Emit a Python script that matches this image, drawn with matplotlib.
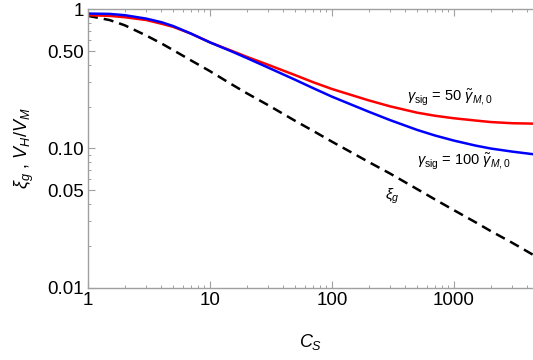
import matplotlib
matplotlib.use("Agg")
import matplotlib.pyplot as plt
from matplotlib.ticker import LogLocator, FixedLocator, FixedFormatter, NullFormatter

plt.rcParams['font.family'] = ['Liberation Sans', 'DejaVu Sans']
plt.rcParams['mathtext.fontset'] = 'custom'
plt.rcParams['mathtext.rm'] = 'Liberation Sans'
plt.rcParams['mathtext.it'] = 'Liberation Sans:italic'

# --- data ---
cs = [1, 1.5, 2, 3, 4, 5, 7, 10, 15, 20, 30, 50, 70, 100, 150, 200,
      300, 500, 700, 1000, 1500, 2000, 3000, 4450]
v_100 = [0.935, 0.93, 0.91, 0.86, 0.81, 0.76, 0.67, 0.58, 0.50, 0.448,
         0.382, 0.312, 0.272, 0.236, 0.204, 0.184, 0.160, 0.136, 0.124,
         0.114, 0.105, 0.100, 0.095, 0.091]
v_50 = [0.91, 0.90, 0.88, 0.84, 0.79, 0.75, 0.67, 0.58, 0.505, 0.457,
        0.40, 0.337, 0.300, 0.268, 0.240, 0.222, 0.201, 0.181, 0.172,
        0.165, 0.159, 0.155, 0.152, 0.151]
xi_g = [0.90, 0.84, 0.77, 0.65, 0.57, 0.51, 0.43, 0.36, 0.29, 0.25,
        0.205, 0.158, 0.134, 0.112, 0.092, 0.080, 0.066, 0.051, 0.043,
        0.036, 0.0295, 0.0255, 0.021, 0.0172]

yticks = [0.01, 0.05, 0.10, 0.50, 1]
ytick_labels = ['0.01', '0.05', '0.10', '0.50', '1']
xticks = [1, 10, 100, 1000]
xtick_labels = ['1', '10', '100', '1000']

W, H = 533, 360
fig = plt.figure(figsize=(W/100, H/100), dpi=100)
ax = fig.add_axes([88/W, (H-287.5)/H, (W-88)/W, (287.5-9.5)/H])

ax.plot(cs, xi_g, color='black', lw=1.8, ls=(0, (4, 2.4)))
ax.plot(cs, v_50, color='#ff0000', lw=1.8)
ax.plot(cs, v_100, color='#0000ff', lw=1.8)

ax.set_xscale('log')
ax.set_yscale('log')
ax.set_xlim(1, 4450)
ax.set_ylim(0.01, 1)

ax.yaxis.set_major_locator(FixedLocator(yticks))
ax.yaxis.set_major_formatter(FixedFormatter(ytick_labels))
ax.yaxis.set_minor_locator(LogLocator(base=10, subs=range(2, 10)))
ax.yaxis.set_minor_formatter(NullFormatter())
ax.xaxis.set_major_locator(FixedLocator(xticks))
ax.xaxis.set_major_formatter(FixedFormatter(xtick_labels))
ax.xaxis.set_minor_locator(LogLocator(base=10, subs=range(2, 10)))
ax.xaxis.set_minor_formatter(NullFormatter())

for s in ['left', 'bottom', 'top']:
    ax.spines[s].set_color('#a0a0a0')
    ax.spines[s].set_linewidth(1.0)
ax.spines['right'].set_visible(False)

ax.tick_params(which='both', direction='in', color='#a0a0a0', top=True,
               right=False, labelsize=13.5, pad=3)
ax.tick_params(which='major', length=5, width=0.8)
ax.tick_params(which='minor', length=2.5, width=0.7)

ax.set_xlabel(r'$C_S$', fontsize=13, labelpad=17)
ax.set_ylabel(r'$\xi_g$ , $V_H / V_M$', fontsize=13, labelpad=8)

# curve labels, placed in pixel coordinates (from top-left)
def label(px, py, s, size):
    fig.text(px/W, 1 - py/H, s, fontsize=size, ha='center', va='center')

label(450, 98, r'$\gamma_{\rm sig}$ = 50 $\tilde{\gamma}_{M,0}$', 10.5)
label(464, 162, r'$\gamma_{\rm sig}$ = 100 $\tilde{\gamma}_{M,0}$', 10.5)
label(392, 196, r'$\xi_g$', 11)

fig.savefig('out.png', dpi=100)
